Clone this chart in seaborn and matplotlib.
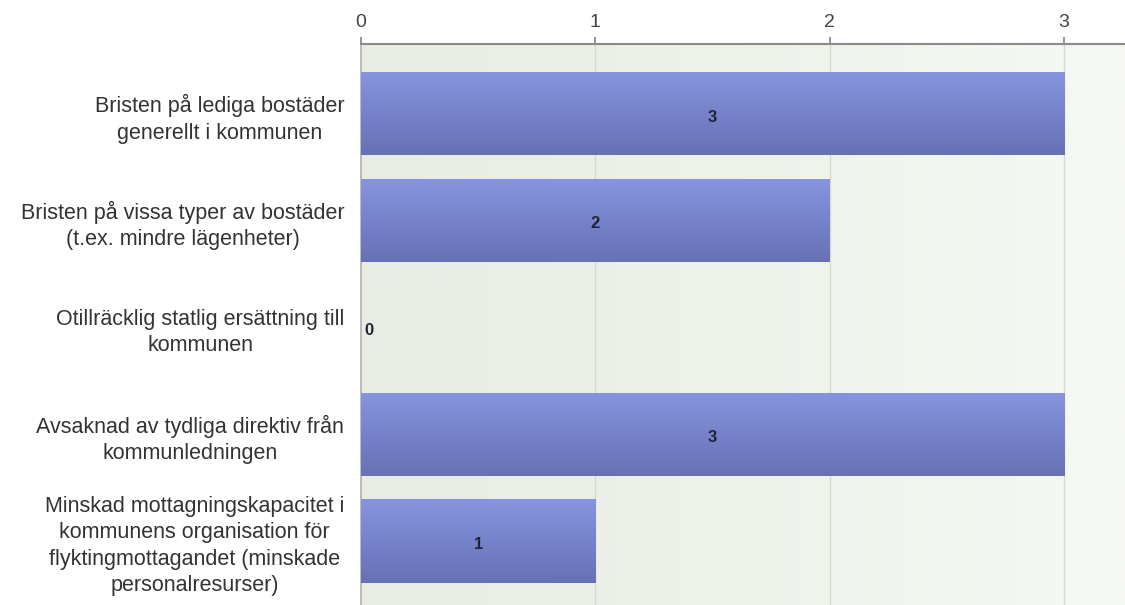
import numpy as np
import pandas as pd
import seaborn as sns
import matplotlib.pyplot as plt
import matplotlib.colors as mcolors

# Datos
categorias = [
    "Bristen på lediga bostäder\ngenerellt i kommunen",
    "Bristen på vissa typer av bostäder\n(t.ex. mindre lägenheter)",
    "Otillräcklig statlig ersättning till\nkommunen",
    "Avsaknad av tydliga direktiv från\nkommunledningen",
    "Minskad mottagningskapacitet i\nkommunens organisation för\nflyktingmottagandet (minskade\npersonalresurser)",
]
valores = [3, 2, 0, 3, 1]
ticks_x = [0, 1, 2, 3]

df = pd.DataFrame({"categoria": categorias, "valor": valores})

sns.set_theme(style="white")
plt.rcParams["font.family"] = ["Liberation Sans", "DejaVu Sans"]

fig = plt.figure(figsize=(11.25, 6.05), dpi=100)
ax = fig.add_axes([0.3209, 0.0, 0.6791, 0.9273])

sns.barplot(data=df, x="valor", y="categoria", orient="h", color="#7785cc",
            width=0.78, ax=ax, zorder=3)

ax.set_xlim(0, 3.26)
ax.set_ylim(4.6, -0.654)

# Fondo con degradado suave
fondo = np.linspace(0, 1, 256).reshape(1, -1)
cmap_fondo = mcolors.LinearSegmentedColormap.from_list("fondo", ["#e8ece3", "#f6f8f3"])
ax.imshow(fondo, extent=[0, 3.26, 4.6, -0.654], aspect="auto", cmap=cmap_fondo,
          zorder=0)

# Degradado en las barras (claro arriba, oscuro abajo)
cmap_barra = mcolors.LinearSegmentedColormap.from_list("barra", ["#8595df", "#6771b5"])
grad = np.linspace(0, 1, 128).reshape(-1, 1)
for p in ax.patches:
    p.set_linewidth(0)
    if p.get_width() <= 0:
        continue
    x0, y0 = p.get_x(), p.get_y()
    w, h = p.get_width(), p.get_height()
    im = ax.imshow(grad, extent=[x0, x0 + w, y0 + h, y0], aspect="auto",
                   cmap=cmap_barra, origin="upper", zorder=4)
    im.set_clip_path(p)

ax.set_xlim(0, 3.26)
ax.set_ylim(4.6, -0.654)

# Etiquetas de valores
for i, v in enumerate(valores):
    x = 0.015 if v == 0 else v / 2
    ha = "left" if v == 0 else "center"
    ax.text(x, i + 0.03, str(v), ha=ha, va="center", fontsize=12,
            fontweight="bold", color="#1f2438", zorder=6)

# Ejes
ax.xaxis.tick_top()
ax.set_xticks(ticks_x)
ax.set_xticklabels([str(t) for t in ticks_x])
ax.tick_params(axis="x", which="both", top=True, length=5, color="#888888",
               labelsize=14, labelcolor="#444444", pad=4)
ax.tick_params(axis="y", left=False, labelsize=15.5, labelcolor="#333333", pad=6)
for lab in ax.get_yticklabels():
    lab.set_multialignment("center")
    lab.set_linespacing(1.33)
ax.set_xlabel("")
ax.set_ylabel("")

for t in ticks_x[1:]:
    ax.axvline(t, color="#d6d8d2", linewidth=1, zorder=1)

for s in ["right", "bottom"]:
    ax.spines[s].set_visible(False)
ax.spines["top"].set_color("#8a8a8a")
ax.spines["top"].set_linewidth(1.5)
ax.spines["left"].set_color("#b0b0b0")
ax.spines["left"].set_linewidth(1.2)

fig.savefig("out.png", dpi=100, facecolor="white")
